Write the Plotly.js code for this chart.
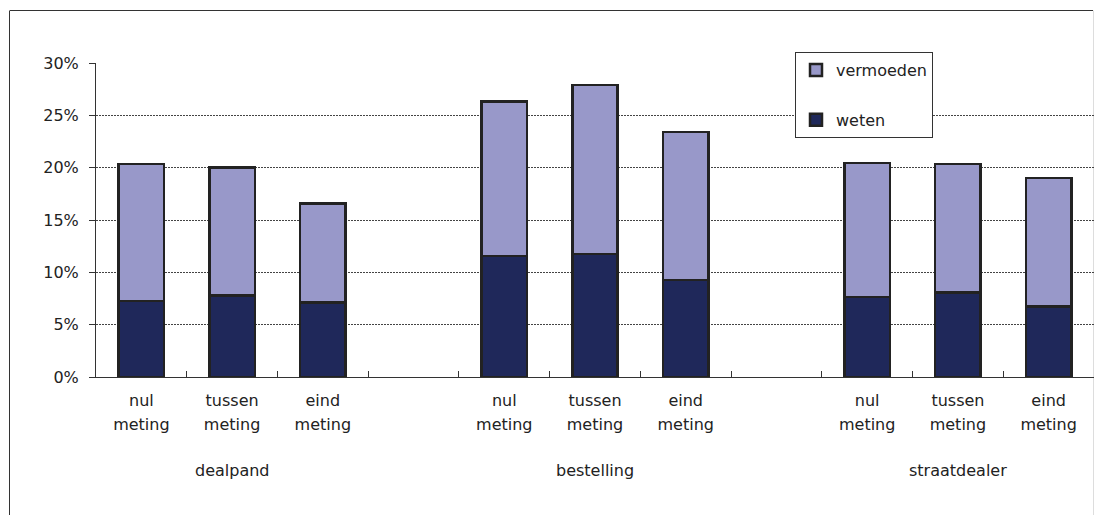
<!DOCTYPE html>
<html>
<head>
<meta charset="utf-8">
<script src="https://cdn.plot.ly/plotly-3.0.1.min.js"></script>
<style>
html,body{margin:0;padding:0;background:#fff;overflow:hidden;width:1094px;height:515px;}
#chart{width:1094px;height:515px;}
</style>
</head>
<body>
<div id="chart"></div>
<script>
// ---- data ----
const groups = ["dealpand", "bestelling", "straatdealer"];
const measures = ["nul<br>meting", "tussen<br>meting", "eind<br>meting"];
// values in % (per group: nul, tussen, eind)
const weten = [
  [7.25, 7.8, 7.1],
  [11.55, 11.75, 9.25],
  [7.65, 8.05, 6.75]
];
const vermoeden = [
  [13.1, 12.2, 9.5],
  [14.75, 16.15, 14.15],
  [12.8, 12.3, 12.25]
];
const yTicks = [0, 5, 10, 15, 20, 25, 30];
const yTickText = ["0%", "5%", "10%", "15%", "20%", "25%", "30%"];
const seriesNames = ["weten", "vermoeden"];
const seriesColors = ["#1f285a", "#9898c9"];

// slot layout: each group occupies measures.length slots + 1 empty slot
const slotsPerGroup = measures.length + 1;
const xs = [], line1 = [], line2 = [], wetenFlat = [], vermFlat = [];
groups.forEach((g, gi) => {
  measures.forEach((m, mi) => {
    xs.push(gi * slotsPerGroup + mi);
    const parts = m.split("<br>");
    line1.push(parts[0]);
    line2.push(parts[1] || "");
    wetenFlat.push(weten[gi][mi]);
    vermFlat.push(vermoeden[gi][mi]);
  });
});
const nSlots = groups.length * slotsPerGroup - 1;
const boundaries = [];
for (let i = 0; i <= nSlots; i++) boundaries.push(i - 0.5);

const font = {family: "DejaVu Sans, sans-serif", size: 16, color: "#222"};
const lineStyle = {color: "#222", width: 2.5};

const traces = [
  {type: "bar", x: xs, y: wetenFlat, name: seriesNames[0], legendgroup: "w", legendrank: 2,
   marker: {color: seriesColors[0], line: lineStyle}, width: 0.5, hoverinfo: "skip"},
  {type: "bar", x: xs, y: vermFlat, name: seriesNames[1], legendgroup: "v", legendrank: 1,
   marker: {color: seriesColors[1], line: lineStyle}, width: 0.5, hoverinfo: "skip"},
  // invisible traces carrying the category label axes
  {type: "scatter", x: xs, y: wetenFlat, xaxis: "x2", mode: "none", showlegend: false, hoverinfo: "skip"},
  {type: "scatter", x: xs, y: wetenFlat, xaxis: "x3", mode: "none", showlegend: false, hoverinfo: "skip"}
];

const xRange = [-0.5, nSlots - 0.5];
const annotations = groups.map((g, gi) => ({
  text: g, x: gi * slotsPerGroup + (measures.length - 1) / 2, xref: "x",
  y: 0, yref: "paper", yanchor: "middle", yshift: -93, showarrow: false, font: font
}));

const plotW = 1094 - 96;
const labelAxis = (text, standoff) => ({
  overlaying: "x", side: "bottom", range: xRange, tickmode: "array",
  tickvals: xs, ticktext: text, ticks: "", showline: false,
  showgrid: false, zeroline: false, ticklabelstandoff: standoff, fixedrange: true
});

const px = v => (v - 96) / plotW;      // page x -> paper x
const py = v => (377 - v) / 314;       // page y -> paper y

const layout = {
  width: 1094, height: 515,
  margin: {l: 96, r: 0, t: 63, b: 138},
  paper_bgcolor: "#fff", plot_bgcolor: "#fff",
  font: font,
  barmode: "stack",
  showlegend: true,
  legend: {
    x: px(795), y: py(52), xanchor: "left", yanchor: "top",
    traceorder: "grouped", tracegroupgap: 26,
    bordercolor: "#333", borderwidth: 1, bgcolor: "#fff",
    font: font, itemwidth: 30
  },
  xaxis: {
    range: xRange, tickmode: "array", tickvals: boundaries,
    ticktext: boundaries.map(() => ""), ticks: "inside", ticklen: 6,
    tickcolor: "#333", showline: true, linecolor: "#333", linewidth: 1,
    showgrid: false, zeroline: false, fixedrange: true
  },
  xaxis2: labelAxis(line1, 12),
  xaxis3: labelAxis(line2, 36),
  yaxis: {
    range: [0, 30], tickmode: "array", tickvals: yTicks, ticktext: yTickText,
    ticks: "outside", ticklen: 6, tickcolor: "#333", ticklabelstandoff: 7,
    showline: true, linecolor: "#333", linewidth: 1,
    showgrid: true, gridcolor: "#444", gridwidth: 1, griddash: "2px,1px",
    zeroline: false, fixedrange: true
  },
  annotations: annotations,
  shapes: [
    {type: "line", xref: "paper", yref: "paper", x0: px(10), x1: px(1093), y0: py(10.5), y1: py(10.5),
     line: {color: "#333", width: 1}, layer: "below"},
    {type: "line", xref: "paper", yref: "paper", x0: px(9.5), x1: px(9.5), y0: py(10.5), y1: py(530),
     line: {color: "#333", width: 1}, layer: "below"},
    {type: "line", xref: "paper", yref: "paper", x0: px(1093.5), x1: px(1093.5), y0: py(10.5), y1: py(530),
     line: {color: "#ddd", width: 1}, layer: "below"}
  ]
};

Plotly.newPlot("chart", traces, layout, {displayModeBar: false, staticPlot: true});
</script>
</body>
</html>
